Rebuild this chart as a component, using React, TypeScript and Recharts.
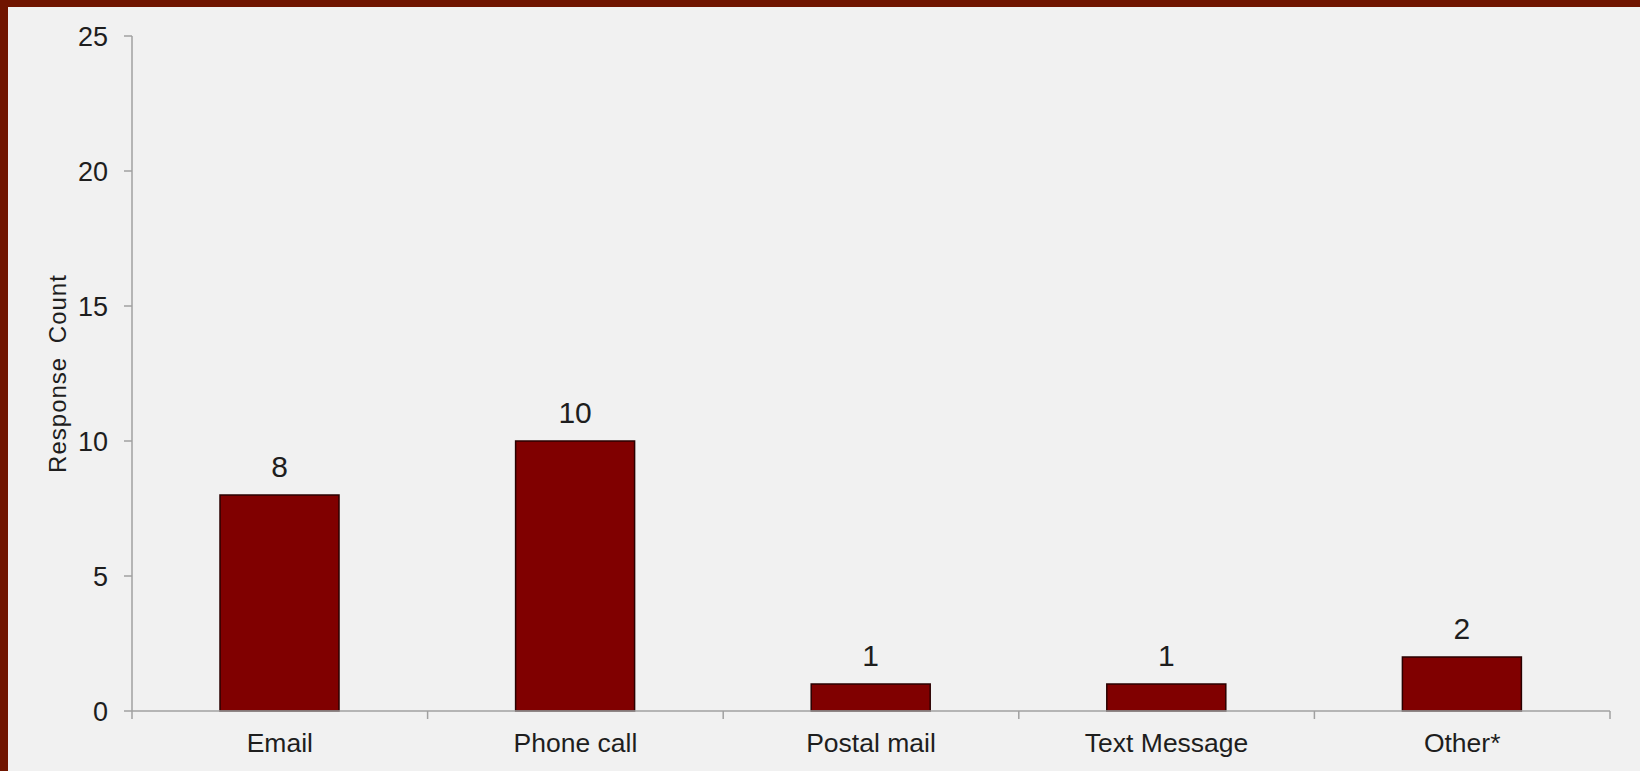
// @ts-nocheck
import React from 'react';
import { BarChart, Bar, XAxis, YAxis, LabelList, Label } from 'recharts';

// Response counts
const categories = ['Email', 'Phone call', 'Postal mail', 'Text Message', 'Other*'];
const responseCounts = [8, 10, 1, 1, 2];
const yTicks = [0, 5, 10, 15, 20, 25];

const data = categories.map((name, i) => ({ name, count: responseCounts[i] }));

const W = 1640;
const H = 771;
const MARGIN = { top: 36, right: 30, left: 0, bottom: 0 };
const Y_AXIS_W = 132;
const X_AXIS_H = 60;
const PLOT_W = W - MARGIN.left - MARGIN.right - Y_AXIS_W;
const AXIS_Y = H - MARGIN.bottom - X_AXIS_H;
const STEP = PLOT_W / categories.length;

const AXIS_COLOR = '#a0a0a0';
const TEXT_COLOR = '#1e1e1e';
const FONT = '"Liberation Sans", Arial, sans-serif';

// Excel-style: tick marks sit between categories, labels at centres
function CategoryTick(props) {
    const { x, payload, index } = props;
    const last = index === categories.length - 1;
    return (
        <g>
            <line x1={x - STEP / 2} x2={x - STEP / 2} y1={AXIS_Y} y2={AXIS_Y + 8} stroke={AXIS_COLOR} strokeWidth={1.5} />
            {last && (
                <line x1={x + STEP / 2} x2={x + STEP / 2} y1={AXIS_Y} y2={AXIS_Y + 8} stroke={AXIS_COLOR} strokeWidth={1.5} />
            )}
            <text x={x} y={AXIS_Y + 22} dy="0.71em" textAnchor="middle" fill={TEXT_COLOR} fontSize={26.5} fontFamily={FONT}>
                {payload.value}
            </text>
        </g>
    );
}

export default function App() {
    return (
        <div style={{ position: 'fixed', left: 0, top: 0, width: W, height: H, background: '#f1f1f1', overflow: 'hidden' }}>
            <div style={{ position: 'absolute', left: 0, top: 0, width: W, height: 7, background: '#701500' }} />
            <div style={{ position: 'absolute', left: 0, top: 0, width: 8, height: H, background: '#701500' }} />
            <div style={{ position: 'absolute', left: 0, top: 0 }}>
                <BarChart width={W} height={H} data={data} margin={MARGIN}>
                    <XAxis
                        dataKey="name"
                        height={X_AXIS_H}
                        axisLine={{ stroke: AXIS_COLOR, strokeWidth: 1.5 }}
                        tickLine={false}
                        tick={<CategoryTick />}
                        interval={0}
                    />
                    <YAxis
                        width={Y_AXIS_W}
                        domain={[0, 25]}
                        ticks={yTicks}
                        interval={0}
                        axisLine={{ stroke: AXIS_COLOR, strokeWidth: 1.5 }}
                        tickLine={{ stroke: AXIS_COLOR, strokeWidth: 1.5 }}
                        tickSize={8}
                        tickMargin={16}
                        tick={{ fill: TEXT_COLOR, fontSize: 27, fontFamily: FONT }}
                    >
                        <Label
                            value="Response Count"
                            angle={-90}
                            position="center"
                            dx={-9}
                            style={{ fill: TEXT_COLOR, fontSize: 24, fontFamily: FONT, letterSpacing: 1, wordSpacing: 6 }}
                        />
                    </YAxis>
                    <Bar dataKey="count" fill="#800000" stroke="#2a0000" strokeWidth={1.5} barSize={119} isAnimationActive={false}>
                        <LabelList
                            dataKey="count"
                            position="top"
                            offset={18}
                            fill={TEXT_COLOR}
                            fontSize={30}
                            fontFamily={FONT}
                        />
                    </Bar>
                </BarChart>
            </div>
        </div>
    );
}
